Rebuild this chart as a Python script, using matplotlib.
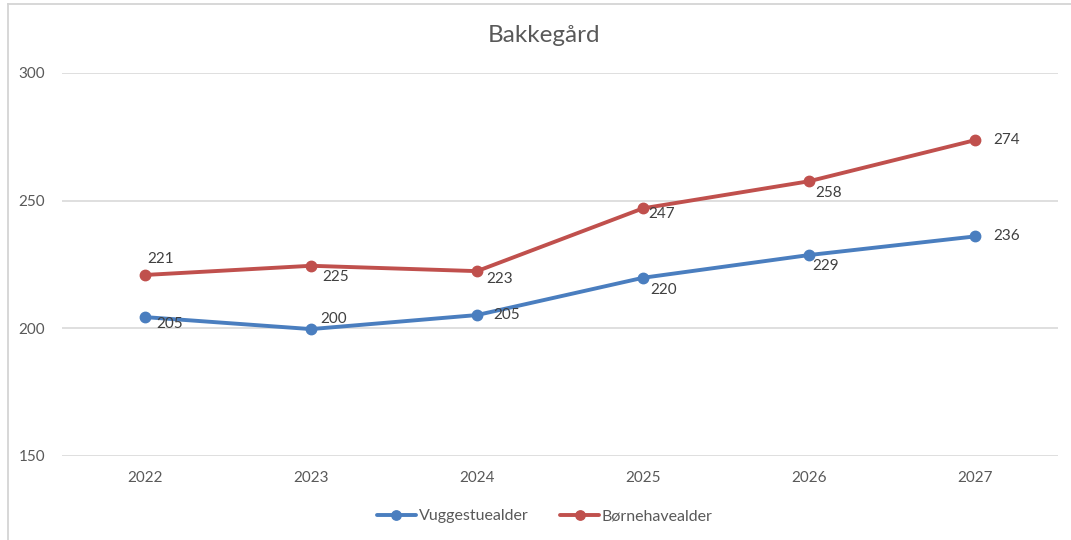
import matplotlib
matplotlib.use("Agg")
import matplotlib.pyplot as plt
from matplotlib.lines import Line2D

# ---- data ----
years = ["2022", "2023", "2024", "2025", "2026", "2027"]
vuggestue = [204.4, 199.7, 205.2, 219.8, 228.7, 236.0]
vuggestue_labels = ["205", "200", "205", "220", "229", "236"]
boernehave = [220.9, 224.5, 222.4, 247.0, 257.6, 273.7]
boernehave_labels = ["221", "225", "223", "247", "258", "274"]
series_names = ["Vuggestuealder", "Børnehavealder"]
title = "Bakkegård"
yticks = [150, 200, 250, 300]

# ---- style ----
BLUE = "#4A7EBF"
RED = "#C0504D"
TXT = "#595959"
GRID = "#D9D9D9"
FONT = ["Lato", "DejaVu Sans"]
plt.rcParams["font.family"] = FONT

# label offsets in pixels (dx to left edge of text, dy to text centre, up positive)
off_blue = [(11, -7), (9, 10), (16, 0), (7, -12), (3, -11), (18, 0)]
off_red = [(2, 16), (11, -11), (9, -8), (5, -6), (6, -12), (18, 0)]

W, H = 1071, 540
fig = plt.figure(figsize=(W / 100, H / 100), dpi=100)
ax = fig.add_axes([62 / W, 1 - 456 / H, (1058 - 62) / W, (456 - 73) / H])

x = list(range(len(years)))
ax.plot(x, vuggestue, color=BLUE, lw=2.8, marker="o", ms=7.5, label=series_names[0],
        solid_capstyle="round", zorder=3)
ax.plot(x, boernehave, color=RED, lw=2.8, marker="o", ms=7.5, label=series_names[1],
        solid_capstyle="round", zorder=3)

for xi, v, lab, off in zip(x, vuggestue, vuggestue_labels, off_blue):
    ax.annotate(lab, (xi, v), xytext=off, textcoords="offset pixels",
                ha="left", va="center", fontsize=11, color="#404040")
for xi, v, lab, off in zip(x, boernehave, boernehave_labels, off_red):
    ax.annotate(lab, (xi, v), xytext=off, textcoords="offset pixels",
                ha="left", va="center", fontsize=11, color="#404040")

ax.set_xlim(-0.5, len(years) - 0.5)
ax.set_ylim(150, 300)
ax.set_yticks(yticks)
ax.set_yticklabels([str(t) for t in yticks])
ax.set_xticks(x)
ax.set_xticklabels(years)
ax.grid(axis="y", color=GRID, lw=1.2)
ax.set_axisbelow(True)
for s in ax.spines.values():
    s.set_visible(False)
ax.tick_params(axis="both", length=0, labelsize=11, colors=TXT)
ax.tick_params(axis="y", pad=12)
ax.tick_params(axis="x", pad=11)

fig.text(544 / W, 1 - 36 / H, title, ha="center", va="center", fontsize=17.5, color=TXT)

leg = ax.legend(loc="center", bbox_to_anchor=(545 / W, 1 - 516 / H),
                bbox_transform=fig.transFigure, ncol=2, frameon=False,
                fontsize=11.5, handlelength=2.4, handletextpad=0.2,
                columnspacing=2.0, markerscale=0.9)
for t in leg.get_texts():
    t.set_color(TXT)

# chart frame (partly cropped)
fig.add_artist(Line2D([8 / W, 1], [1 - 3.5 / H, 1 - 3.5 / H], transform=fig.transFigure,
                      color="#D4D4D4", lw=1.3))
fig.add_artist(Line2D([8 / W, 8 / W], [0, 1 - 3.5 / H], transform=fig.transFigure,
                      color="#D4D4D4", lw=1.3))

fig.savefig("out.png", dpi=100, facecolor="white")
